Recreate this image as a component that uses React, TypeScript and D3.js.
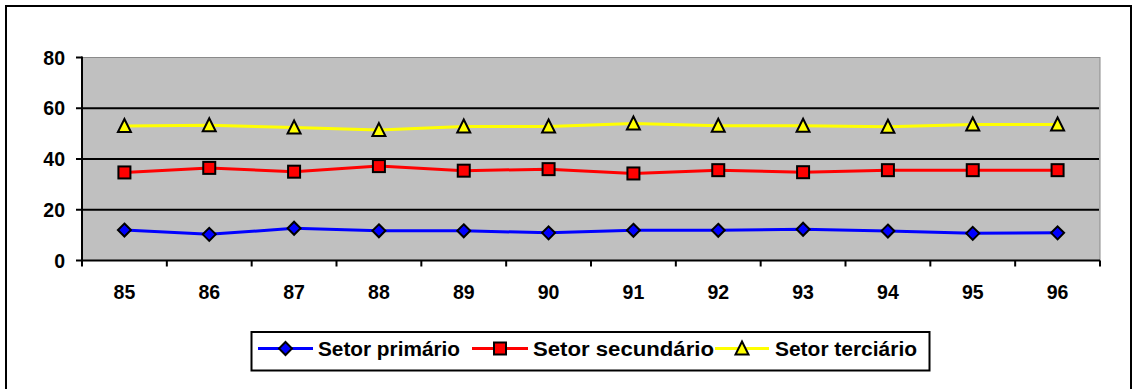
import React from "react";
import * as d3 from "d3";

const categories = ["85", "86", "87", "88", "89", "90", "91", "92", "93", "94", "95", "96"];
const primario = [12, 10.3, 12.7, 11.7, 11.7, 10.9, 11.9, 11.9, 12.3, 11.6, 10.7, 10.9];
const secundario = [34.7, 36.5, 35, 37.2, 35.4, 36, 34.3, 35.6, 34.8, 35.6, 35.6, 35.6];
const terciario = [53, 53.3, 52.4, 51.4, 52.8, 52.8, 54, 53.1, 53.1, 52.7, 53.6, 53.6];
const yTicks = [0, 20, 40, 60, 80];
const seriesNames = ["Setor primário", "Setor secundário", "Setor terciário"];

const W = 1133;
const H = 389;
const PL = 82, PR = 1100, PT = 57.5, PB = 260.5;
const FONT = "'Liberation Sans', Arial, sans-serif";

type Kind = "diamond" | "square" | "triangle";

function Marker({ kind, x, y, fill }: { kind: Kind; x: number; y: number; fill: string }) {
  if (kind === "diamond") {
    const r = 6.5;
    return (
      <path
        d={`M${x},${y - r}L${x + r},${y}L${x},${y + r}L${x - r},${y}Z`}
        fill={fill}
        stroke="#000"
        strokeWidth={2}
      />
    );
  }
  if (kind === "square") {
    const s = 6;
    return <rect x={x - s} y={y - s} width={2 * s} height={2 * s} fill={fill} stroke="#000" strokeWidth={2} />;
  }
  const h = 12;
  const w = 6.5;
  return (
    <path
      d={`M${x},${y - h / 2 - 1}L${x + w},${y + h / 2}L${x - w},${y + h / 2}Z`}
      fill={fill}
      stroke="#000"
      strokeWidth={2}
      strokeLinejoin="miter"
    />
  );
}

export default function App() {
  const x = d3.scaleBand<string>().domain(categories).range([PL, PR]).padding(0);
  const y = d3.scaleLinear().domain([0, 80]).range([PB, PT]);
  const cx = (c: string) => (x(c) as number) + x.bandwidth() / 2;

  const series = [
    { name: seriesNames[0], values: primario, color: "#0000FF", kind: "diamond" as Kind },
    { name: seriesNames[1], values: secundario, color: "#FF0000", kind: "square" as Kind },
    { name: seriesNames[2], values: terciario, color: "#FFFF00", kind: "triangle" as Kind },
  ];

  const line = d3
    .line<number>()
    .x((_, i) => cx(categories[i]))
    .y((d) => y(d));

  const legendItems = [
    { lx1: 258, lx2: 313, tx: 318, tw: 142 },
    { lx1: 472, lx2: 528, tx: 533, tw: 181 },
    { lx1: 715, lx2: 769, tx: 775, tw: 142 },
  ];
  const legendY = 348.5;

  return (
    <svg
      width={W}
      height={H}
      style={{ position: "absolute", left: 0, top: 0, background: "#fff" }}
      fontFamily={FONT}
    >
      <rect x={6} y={6} width={1125} height={400} fill="#fff" stroke="#000" strokeWidth={2} />
      {/* plot area */}
      <rect x={PL} y={PT} width={PR - PL} height={PB - PT} fill="#C0C0C0" stroke="#8a8a8a" strokeWidth={1} />
      {/* gridlines */}
      {yTicks
        .filter((t) => t !== 0 && t !== 80)
        .map((t) => (
          <line key={t} x1={PL} x2={PR - 1} y1={y(t)} y2={y(t)} stroke="#000" strokeWidth={2} />
        ))}
      {/* axes */}
      <line x1={PL} x2={PL} y1={PT - 1} y2={PB + 1} stroke="#000" strokeWidth={2} />
      <line x1={PL - 1} x2={PR} y1={PB} y2={PB} stroke="#000" strokeWidth={2} />
      {yTicks.map((t) => (
        <g key={t}>
          <line x1={PL - 6} x2={PL} y1={y(t)} y2={y(t)} stroke="#000" strokeWidth={2} />
          <text
            x={65}
            y={y(t) + 7}
            textAnchor="end"
            fontSize={19.5}
            fontWeight="bold"
            fill="#000"
          >
            {t}
          </text>
        </g>
      ))}
      {categories.map((c) => (
        <line key={"t" + c} x1={x(c) as number} x2={x(c) as number} y1={PB} y2={PB + 6} stroke="#000" strokeWidth={2} />
      ))}
      <line x1={PR} x2={PR} y1={PB} y2={PB + 6} stroke="#000" strokeWidth={2} />
      {categories.map((c) => (
        <text key={"l" + c} x={cx(c)} y={298.5} textAnchor="middle" fontSize={19.5} fontWeight="bold" fill="#000">
          {c}
        </text>
      ))}
      {/* series */}
      {series.map((s) => (
        <g key={s.name}>
          <path d={line(s.values) || ""} fill="none" stroke={s.color} strokeWidth={3} />
          {s.values.map((v, i) => (
            <Marker key={i} kind={s.kind} x={cx(categories[i])} y={y(v)} fill={s.color} />
          ))}
        </g>
      ))}
      {/* legend */}
      <rect x={251.5} y={332} width={678} height={38.5} fill="#fff" stroke="#000" strokeWidth={2} />
      {series.map((s, i) => {
        const it = legendItems[i];
        return (
          <g key={"lg" + s.name}>
            <line x1={it.lx1} x2={it.lx2} y1={legendY} y2={legendY} stroke={s.color} strokeWidth={3} />
            <Marker kind={s.kind} x={(it.lx1 + it.lx2) / 2} y={legendY} fill={s.color} />
            <text
              x={it.tx}
              y={legendY + 7}
              fontSize={19.5}
              fontWeight="bold"
              fill="#000"
              textLength={it.tw}
              lengthAdjust="spacingAndGlyphs"
            >
              {s.name}
            </text>
          </g>
        );
      })}
    </svg>
  );
}
